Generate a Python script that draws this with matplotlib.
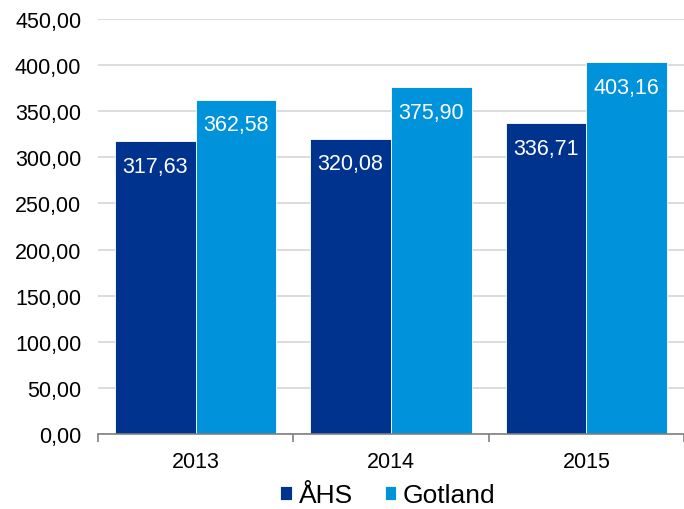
import matplotlib
matplotlib.use("Agg")
import matplotlib.pyplot as plt
import numpy as np

plt.rcParams['font.family'] = ['Liberation Sans', 'DejaVu Sans']

years = ["2013", "2014", "2015"]
series_names = ["ÅHS", "Gotland"]
ahs = [317.63, 320.08, 336.71]
gotland = [362.58, 375.90, 403.16]
yticks = [0, 50, 100, 150, 200, 250, 300, 350, 400, 450]

colors = ["#00338D", "#0093DB"]

fig = plt.figure(figsize=(6.84, 5.10), dpi=100)
ax = fig.add_axes([98/684, 1-435/510, 586/684, 415/510])

x = np.arange(len(years))
w = 0.413
for vals, off, c, name in [(ahs, -w/2, colors[0], series_names[0]),
                           (gotland, w/2, colors[1], series_names[1])]:
    bars = ax.bar(x + off, vals, width=w, color=c, edgecolor="white", linewidth=0.6, label=name, zorder=3)
    for b, v in zip(bars, vals):
        ax.annotate(f"{v:.2f}".replace(".", ","), (b.get_x() + b.get_width()/2, v),
                    xytext=(0, -18), textcoords="offset points", ha="center", va="center",
                    color="white", fontsize=15.5, zorder=4)

ax.set_xlim(-0.5, 2.5)
ax.set_ylim(0, 450)
ax.set_yticks(yticks)
ax.set_yticklabels([f"{v:.2f}".replace(".", ",") for v in yticks], fontsize=15.5)
ax.yaxis.grid(True, color="#D9D9D9", linewidth=1.3, zorder=0)
ax.tick_params(axis="y", length=0, pad=12)

ax.set_xticks(x)
ax.set_xticklabels(years, fontsize=15.5)
ax.set_xticks([-0.5, 0.5, 1.5, 2.5], minor=True)
ax.tick_params(axis="x", which="major", length=0, pad=12)
ax.tick_params(axis="x", which="minor", length=6, color="#808080", width=1.2, direction="out")

for s in ["top", "right", "left"]:
    ax.spines[s].set_visible(False)
ax.spines["bottom"].set_color("#808080")
ax.spines["bottom"].set_linewidth(1.2)
ax.spines["bottom"].set_zorder(5)

handles, labels = ax.get_legend_handles_labels()
fig.legend(handles, labels, loc="center", bbox_to_anchor=(388/684, 1-496/510), ncol=2, frameon=False,
           fontsize=19, handlelength=0.45, handleheight=0.45, handletextpad=0.25,
           columnspacing=1.2, borderpad=0)

fig.savefig("out.png", dpi=100)
